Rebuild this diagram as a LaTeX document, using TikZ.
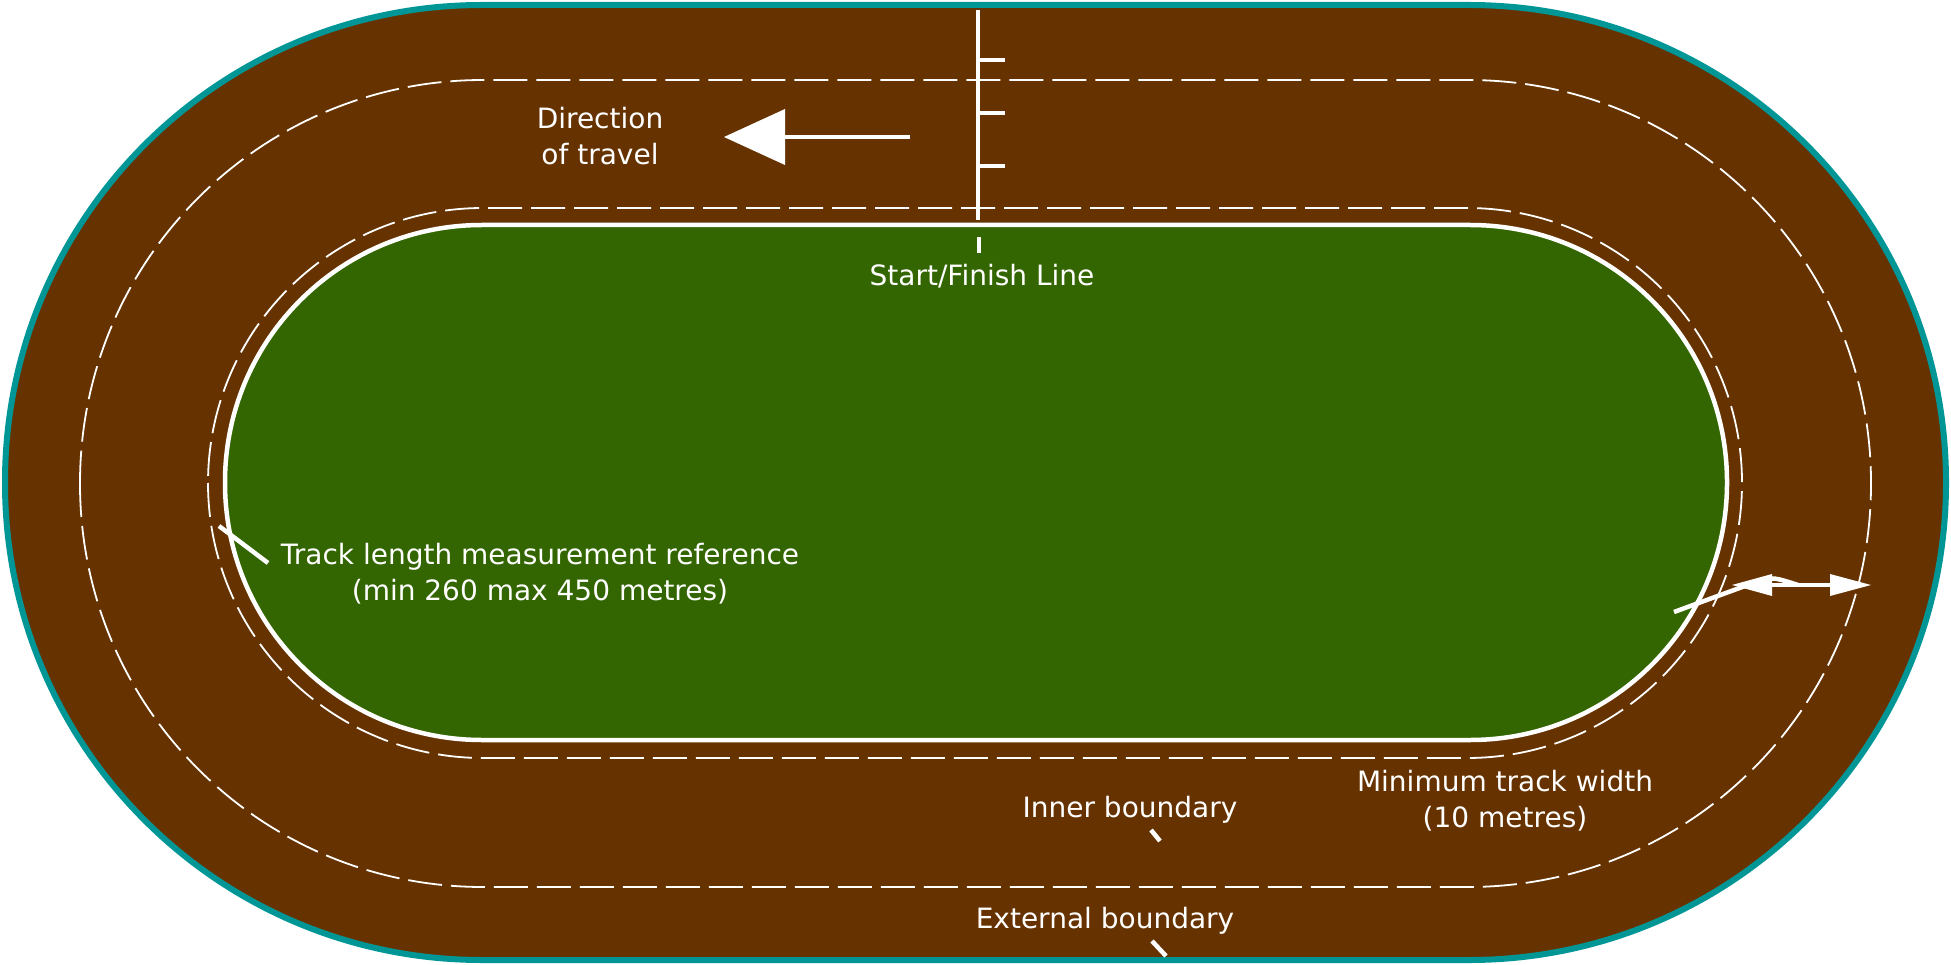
\documentclass[tikz,border=0pt]{standalone}
\usepackage{fontspec}
\setmainfont{DejaVu Sans}
\begin{document}
\begin{tikzpicture}[x=1pt,y=-1pt,
  lbl/.style={text=white,font=\fontsize{28}{36}\selectfont,align=center,inner sep=0},
  wl/.style={white,line width=4.5pt},
  lanedash/.style={white,line width=1.8pt,dash pattern=on 34pt off 9pt}]
\useasboundingbox (0,0) rectangle (1951,965);
\draw[fill={rgb,255:red,102;green,51;blue,0},draw={rgb,255:red,0;green,150;blue,150},line width=6pt,rounded corners=477] (5,5) rectangle (1946,960);
\draw[lanedash,rounded corners=403] (80,80) rectangle (1871,887);
\draw[lanedash,rounded corners=275] (208,208) rectangle (1742,758);
\draw[wl,fill={rgb,255:red,51;green,102;blue,0},rounded corners=257] (225,225) rectangle (1727,740);
% start line
\coordinate (s0) at (978,10); \coordinate (s1) at (978,220);
\draw[wl] (s0) -- (s1);
\foreach \y in {60,113,166} \draw[wl] (978,\y) -- (1005,\y);
\draw[wl] (979,237) -- (979,253);
\node[lbl] (start) at (982,276) {Start/Finish Line};
% direction arrow
\coordinate (a0) at (910,137); \coordinate (a1) at (785,137);
\draw[wl] (a0) -- (a1);
\fill[white] (724,137) -- (785,109) -- (785,165) -- cycle;
\node[lbl] (dir) at (600,136) {Direction\\of travel};
% track length
\coordinate (t0) at (219,526); \coordinate (t1) at (268,563);
\draw[wl] (t0) -- (t1);
\node[lbl] (tl) at (540,574) {Track length measurement reference\\(min 260 max 450 metres)};
% min width
\coordinate (w0) at (1732,585); \coordinate (w1) at (1871,585);
\draw[wl] (1770,585) -- (1833,585);
\fill[white] (w0) -- (1772,574) -- (1772,596) -- cycle;
\fill[white] (w1) -- (1830,574) -- (1830,596) -- cycle;
\coordinate (m0) at (1674,612);
\draw[wl] (m0) -- (1745,586) .. controls (1770,576) .. (1798,585);
\node[lbl] (mw) at (1505,801) {Minimum track width\\(10 metres)};
% boundaries
\node[lbl] (ib) at (1130,810) {Inner boundary};
\draw[wl] (1151,830) -- (1160,841);
\node[lbl] (eb) at (1105,921) {External boundary};
\draw[wl] (1152,941) -- (1166,956);
\end{tikzpicture}
\end{document}
